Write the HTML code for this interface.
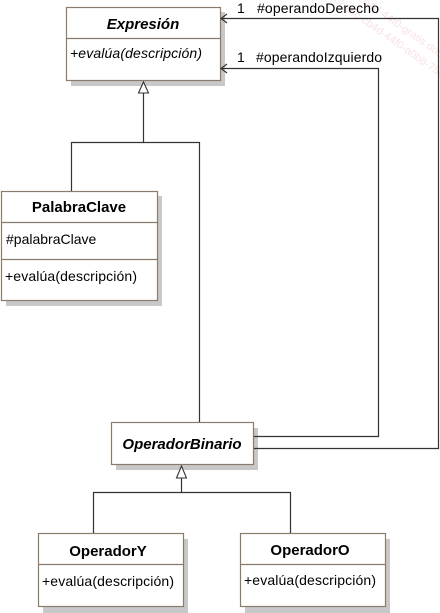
<!DOCTYPE html>
<html><head><meta charset="utf-8"><style>
html,body{margin:0;padding:0;background:#fff}
svg{display:block}
text{font-family:"Liberation Sans",Arial,sans-serif;fill:#000}
</style></head><body>
<svg width="440" height="613" viewBox="0 0 440 613" xmlns="http://www.w3.org/2000/svg">
<rect width="440" height="613" fill="#fff"/>
<g opacity="0.3" font-size="11" transform="rotate(35 380 40)">
<text x="330" y="20" style="fill:#e7a0a8">c-cb4d-44f0-gratis dorlando</text>
<text x="320" y="36" style="fill:#e7a0a8">0b16c-cb4d-44f0-a0b8-75c</text>
</g>
<g fill="#c8c8c8">
<rect x="71" y="12" width="154" height="74"/>
<rect x="6" y="196" width="156" height="110"/>
<rect x="116" y="428" width="142" height="42"/>
<rect x="43" y="539" width="145" height="74"/>
<rect x="245" y="539" width="145" height="74"/>
</g>
<g fill="#fff" stroke="#8b7b6b" stroke-width="1.2">
<rect x="66.5" y="7.5" width="154" height="73"/>
<line x1="66" y1="38.5" x2="221" y2="38.5"/>
<rect x="1.5" y="191.5" width="156" height="109"/>
<line x1="1" y1="222.5" x2="158" y2="222.5"/>
<line x1="1" y1="259.5" x2="158" y2="259.5"/>
<rect x="111.5" y="422.5" width="142" height="42"/>
<rect x="38.5" y="533.5" width="145" height="73"/>
<line x1="38" y1="564.5" x2="184" y2="564.5"/>
<rect x="240.5" y="533.5" width="145" height="73"/>
<line x1="240" y1="564.5" x2="386" y2="564.5"/>
</g>
<g stroke="#333" stroke-width="1.2" fill="none">
<polyline points="143.5,93 143.5,142.5 71.5,142.5 71.5,191"/>
<polyline points="143.5,142.5 199.5,142.5 199.5,422"/>
<polyline points="254,448.5 438.5,448.5 438.5,18.5 221,18.5"/>
<polyline points="254,436.5 378.5,436.5 378.5,68.5 221,68.5"/>
<polyline points="227,14 221,18.5 227,23"/>
<polyline points="227,64 221,68.5 227,73"/>
<polyline points="181.5,478 181.5,492.5 93.5,492.5 93.5,533"/>
<polyline points="181.5,492.5 290.5,492.5 290.5,533"/>
</g>
<g fill="#fff" stroke="#333" stroke-width="1.1">
<polygon points="143.5,82 138.5,93 148.5,93"/>
<polygon points="181.5,466 176.5,478 186.5,478"/>
</g>
<text x="143" y="29" font-size="15" font-weight="bold" font-style="italic" text-anchor="middle">Expresión</text>
<text x="70" y="58" font-size="14" font-style="italic" textLength="132">+evalúa(descripción)</text>
<text x="79" y="212" font-size="15" font-weight="bold" text-anchor="middle">PalabraClave</text>
<text x="6" y="244" font-size="14">#palabraClave</text>
<text x="5" y="281" font-size="14" textLength="132">+evalúa(descripción)</text>
<text x="182" y="449" font-size="15" font-weight="bold" font-style="italic" text-anchor="middle">OperadorBinario</text>
<text x="108" y="556" font-size="15" font-weight="bold" text-anchor="middle">OperadorY</text>
<text x="42" y="586" font-size="14" textLength="132">+evalúa(descripción)</text>
<text x="310" y="555" font-size="15" font-weight="bold" text-anchor="middle">OperadorO</text>
<text x="244" y="585" font-size="14" textLength="132">+evalúa(descripción)</text>
<text x="237" y="13" font-size="14">1</text>
<text x="257" y="13" font-size="14" textLength="122">#operandoDerecho</text>
<text x="237" y="62" font-size="14">1</text>
<text x="256" y="62" font-size="14" textLength="126">#operandoIzquierdo</text>
</svg>
</body></html>
